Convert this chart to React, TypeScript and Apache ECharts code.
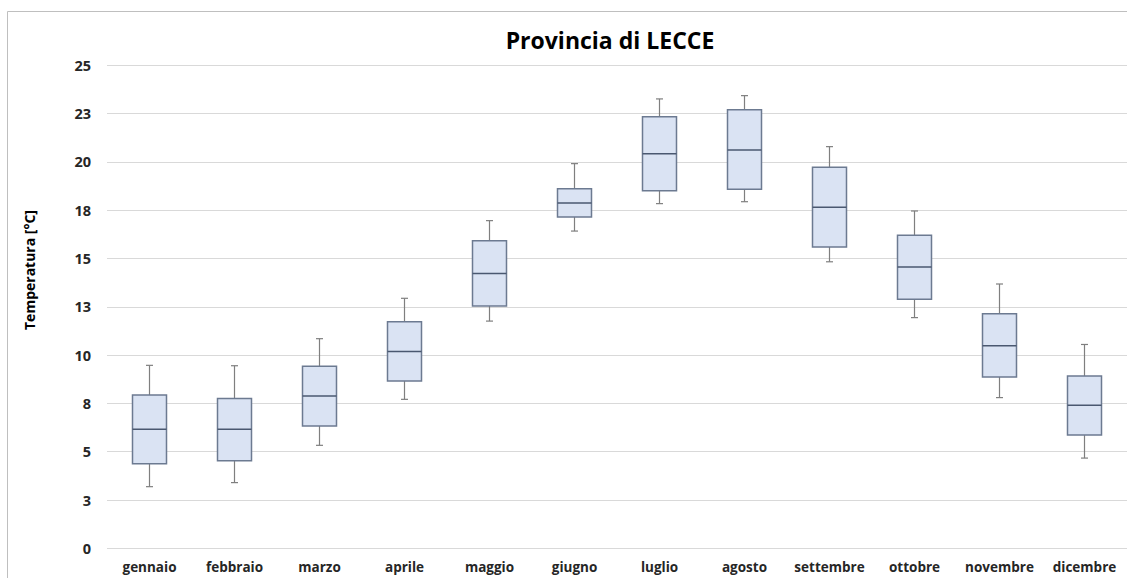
import React, { useEffect, useRef } from "react";
import * as echarts from "echarts";

const categories = [
  "gennaio", "febbraio", "marzo", "aprile", "maggio", "giugno",
  "luglio", "agosto", "settembre", "ottobre", "novembre", "dicembre",
];
const mins = [3.19, 3.4, 5.33, 7.71, 11.76, 16.42, 17.84, 17.94, 14.83, 11.94, 7.8, 4.67];
const q1s = [4.38, 4.53, 6.33, 8.66, 12.54, 17.15, 18.51, 18.58, 15.6, 12.89, 8.87, 5.86];
const medians = [6.16, 6.16, 7.88, 10.18, 14.23, 17.87, 20.42, 20.62, 17.65, 14.56, 10.49, 7.4];
const q3s = [7.93, 7.76, 9.42, 11.72, 15.92, 18.61, 22.34, 22.7, 19.72, 16.2, 12.14, 8.92];
const maxs = [9.47, 9.45, 10.85, 12.94, 16.96, 19.91, 23.26, 23.43, 20.79, 17.46, 13.68, 10.55];

const FONT = "'Open Sans', 'Noto Sans', sans-serif";

export default function App() {
  const ref = useRef<HTMLDivElement>(null);
  useEffect(() => {
    document.body.style.margin = "0";
    const chart = echarts.init(ref.current!, null, { renderer: "svg" });
    const data = categories.map((_, i) => [i, mins[i], q1s[i], medians[i], q3s[i], maxs[i]]);
    chart.setOption({
      animation: false,
      backgroundColor: "#ffffff",
      grid: { left: 107, right: 0, top: 65.3, bottom: 29.7 },
      xAxis: {
        type: "category",
        data: categories,
        axisLine: { show: false },
        axisTick: { show: false },
        axisLabel: {
          interval: 0,
          color: "#262626",
          fontWeight: "bold",
          fontSize: 13.5,
          fontFamily: FONT,
          margin: 12,
        },
        splitLine: { show: false },
      },
      yAxis: {
        type: "value",
        min: 0,
        max: 25,
        interval: 2.5,
        axisLine: { show: false },
        axisTick: { show: false },
        axisLabel: {
          color: "#262626",
          fontWeight: "bold",
          fontSize: 14.5,
          fontFamily: FONT,
          margin: 16,
          formatter: (v: number) => String(Math.round(v)),
        },
        splitLine: { lineStyle: { color: "#d9d9d9", width: 1 } },
      },
      graphic: [
        {
          type: "rect",
          shape: { x: 7.5, y: 11.5, width: 1200, height: 700 },
          style: { fill: "none", stroke: "#bfbfbf", lineWidth: 1 },
          silent: true,
          z: -1,
        },
        {
          type: "text",
          x: 610,
          y: 40,
          style: {
            text: "Provincia di LECCE",
            fontSize: 23,
            fontWeight: "bold",
            fontFamily: FONT,
            fill: "#000000",
            textAlign: "center",
            textVerticalAlign: "middle",
          },
        },
        {
          type: "text",
          x: 29,
          y: 270,
          rotation: Math.PI / 2,
          style: {
            text: "Temperatura [°C]",
            fontSize: 14,
            fontWeight: "bold",
            fontFamily: FONT,
            fill: "#000000",
            textAlign: "center",
            textVerticalAlign: "middle",
          },
        },
      ],
      series: [
        {
          type: "custom",
          data,
          encode: { x: 0, y: [1, 2, 3, 4, 5] },
          renderItem: (params: any, api: any) => {
            const idx = api.value(0);
            const pMin = api.coord([idx, api.value(1)]);
            const pQ1 = api.coord([idx, api.value(2)]);
            const pMed = api.coord([idx, api.value(3)]);
            const pQ3 = api.coord([idx, api.value(4)]);
            const pMax = api.coord([idx, api.value(5)]);
            const bw = api.size([1, 0])[0] * 0.4;
            const cx = pMed[0];
            const cap = 3.5;
            const whisk = { stroke: "#7f7f7f", lineWidth: 1.2 };
            return {
              type: "group",
              children: [
                { type: "line", shape: { x1: cx, y1: pMax[1], x2: cx, y2: pQ3[1] }, style: whisk },
                { type: "line", shape: { x1: cx, y1: pQ1[1], x2: cx, y2: pMin[1] }, style: whisk },
                { type: "line", shape: { x1: cx - cap, y1: pMax[1], x2: cx + cap, y2: pMax[1] }, style: whisk },
                { type: "line", shape: { x1: cx - cap, y1: pMin[1], x2: cx + cap, y2: pMin[1] }, style: whisk },
                {
                  type: "rect",
                  shape: { x: cx - bw / 2, y: pQ3[1], width: bw, height: pQ1[1] - pQ3[1] },
                  style: { fill: "#dae3f3", stroke: "#6c7a91", lineWidth: 1.5 },
                },
                {
                  type: "line",
                  shape: { x1: cx - bw / 2, y1: pMed[1], x2: cx + bw / 2, y2: pMed[1] },
                  style: { stroke: "#4a5870", lineWidth: 1.5 },
                },
              ],
            };
          },
        },
      ],
    });
    return () => chart.dispose();
  }, []);
  return <div ref={ref} style={{ width: 1127, height: 578 }} />;
}
